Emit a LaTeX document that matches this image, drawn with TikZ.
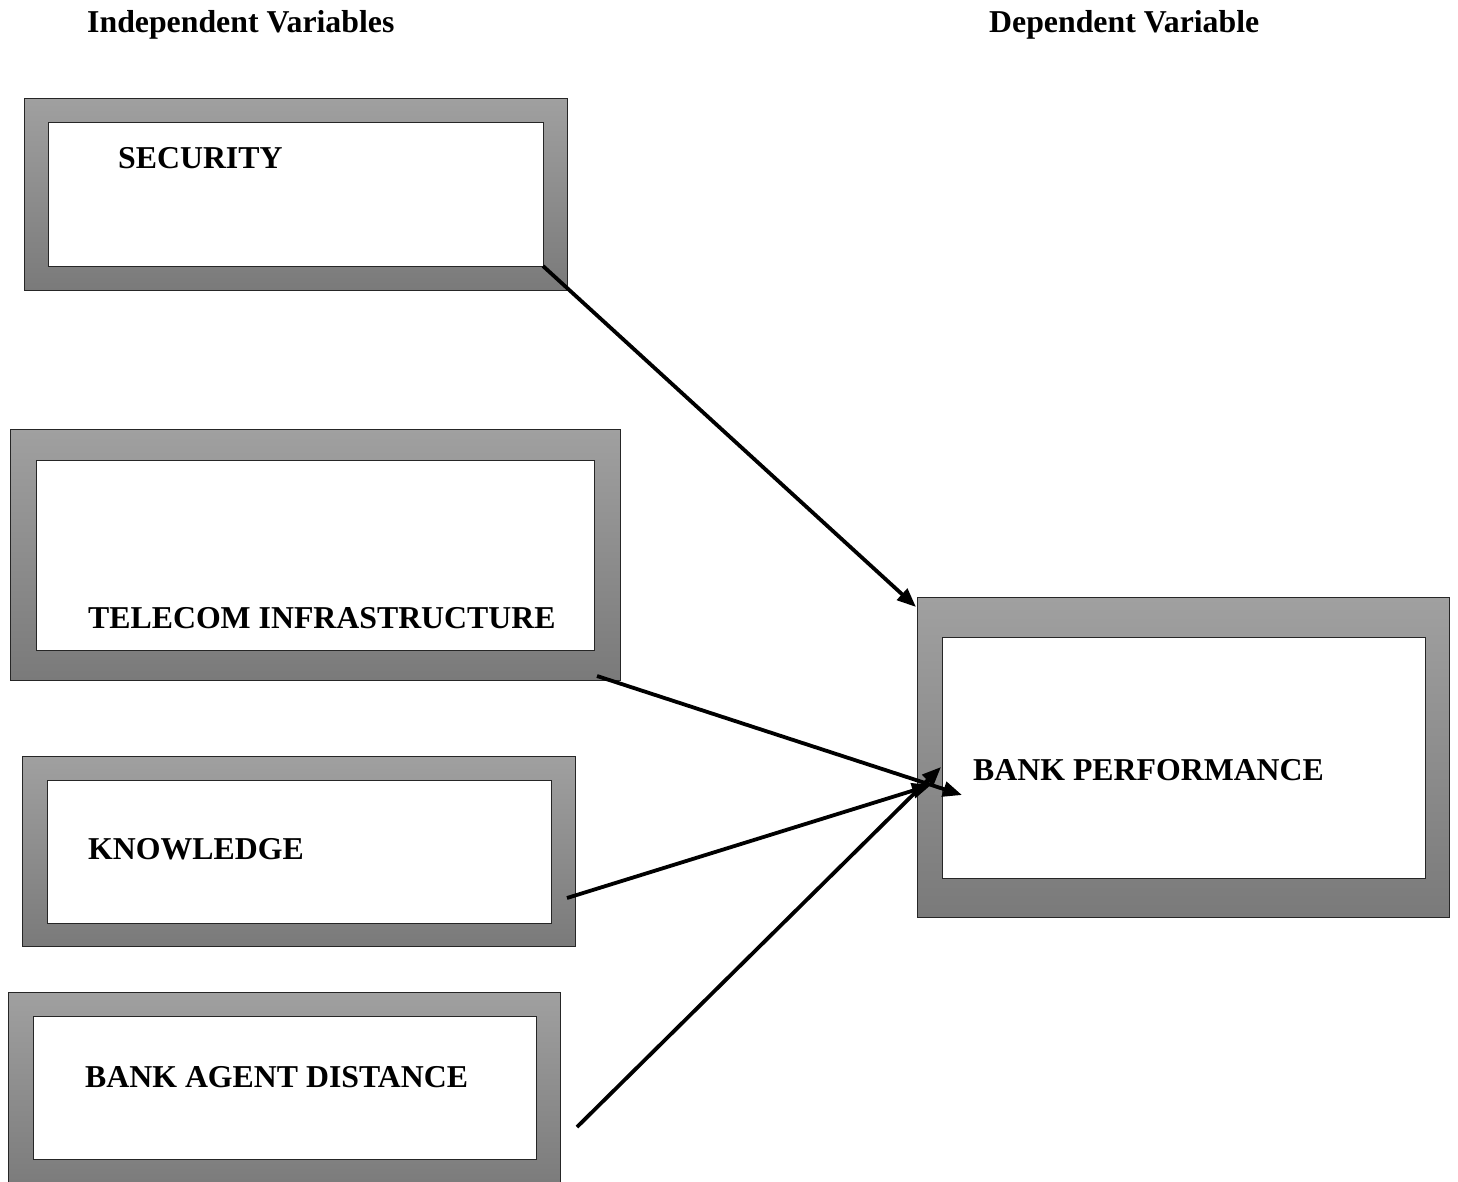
\documentclass[tikz,border=0pt]{standalone}
\usepackage{fontspec}
\setmainfont{Liberation Serif}
\usetikzlibrary{arrows.meta}
\definecolor{gtop}{HTML}{A0A0A0}
\definecolor{gbot}{HTML}{7A7A7A}
\begin{document}
\begin{tikzpicture}[x=1pt,y=-1pt,
  outerbox/.style={draw=black!85, line width=1pt, top color=gtop, bottom color=gbot, anchor=north west, inner sep=0pt, outer sep=0pt},
  innerbox/.style={draw=black!85, line width=1pt, fill=white, anchor=north west, inner sep=0pt, outer sep=0pt},
  lbl/.style={font=\bfseries\fontsize{31.8}{36}\selectfont, anchor=base west, inner sep=0pt},
  arr/.style={line width=3.8pt, -{Triangle[length=19pt,width=15pt]}}]
\useasboundingbox (0,0) rectangle (1458,1181);
% headings
\node[lbl] (hind) at (87,32) {Independent Variables};
\node[lbl] (hdep) at (989,32) {Dependent Variable};
% security
\node[outerbox, minimum width=543pt, minimum height=192pt] (secout) at (24,98) {};
\node[innerbox, minimum width=495pt, minimum height=144pt] (secin) at (48,122) {};
\node[lbl] (sectxt) at (118,168) {SECURITY};
% telecom
\node[outerbox, minimum width=610pt, minimum height=251pt] (telout) at (10,429) {};
\node[innerbox, minimum width=558pt, minimum height=190pt] (telin) at (36,460) {};
\node[lbl] (teltxt) at (88,628) {TELECOM INFRASTRUCTURE};
% knowledge
\node[outerbox, minimum width=553pt, minimum height=190pt] (knout) at (22,756) {};
\node[innerbox, minimum width=504pt, minimum height=143pt] (knin) at (47,780) {};
\node[lbl] (kntxt) at (88,859) {KNOWLEDGE};
% bank agent distance
\node[outerbox, minimum width=552pt, minimum height=200pt] (baout) at (8,992) {};
\node[innerbox, minimum width=503pt, minimum height=143pt] (bain) at (33,1016) {};
\node[lbl] (batxt) at (85,1087) {BANK AGENT DISTANCE};
% bank performance
\node[outerbox, minimum width=532pt, minimum height=320pt] (bpout) at (917,597) {};
\node[innerbox, minimum width=483pt, minimum height=241pt] (bpin) at (942,637) {};
\node[lbl] (bptxt) at (973,780) {BANK PERFORMANCE};
% connector end points
\coordinate (s2) at (597,676);
\coordinate (s3) at (567,898);
\coordinate (s4) at (577,1127);
\coordinate (e1) at (916,607);
\coordinate (e2) at (962,795);
\coordinate (e3) at (931,785);
\coordinate (e4) at (941,767);
\draw[arr] (secin.south east) -- (e1);
\draw[arr] (s2) -- (e2);
\draw[arr] (s3) -- (e3);
\draw[arr] (s4) -- (e4);
\end{tikzpicture}
\end{document}
